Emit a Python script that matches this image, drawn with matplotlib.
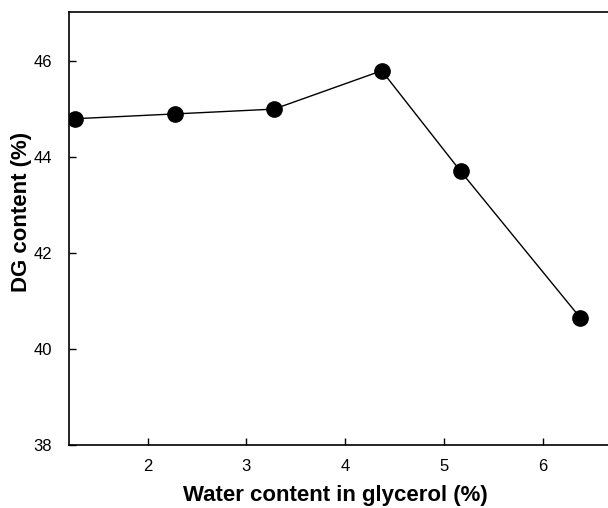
import matplotlib
matplotlib.use("Agg")
import matplotlib.pyplot as plt

water = [1.27, 2.28, 3.28, 4.37, 5.17, 6.38]
dg = [44.8, 44.9, 45.0, 45.8, 43.7, 40.65]
xticks = [2, 3, 4, 5, 6]
yticks = [38, 40, 42, 44, 46]

plt.rcParams['font.family'] = ['Liberation Sans', 'DejaVu Sans']

fig = plt.figure(figsize=(6.08, 5.08), dpi=100)
ax = fig.add_axes([68.5/608, 63/508, 1 - 68.5/608, (445 - 11.7)/508])
ax.plot(water, dg, color='black', lw=1.0, marker='o', markersize=11,
        markerfacecolor='black', markeredgecolor='black')
ax.set_xlim(1.2, 6.66)
ax.set_ylim(38, 47.03)
ax.set_xticks(xticks)
ax.set_yticks(yticks)
ax.tick_params(direction='in', length=5, width=1, labelsize=12)
ax.tick_params(axis='x', pad=10)
ax.tick_params(axis='y', pad=12)
ax.spines['right'].set_visible(False)
for s in ['left', 'top', 'bottom']:
    ax.spines[s].set_linewidth(1.2)
fig.text(335/608, 1 - 496/508, 'Water content in glycerol (%)', fontsize=16,
         fontweight='bold', ha='center', va='center')
fig.text(22/608, 1 - 212/508, 'DG content (%)', fontsize=16,
         fontweight='bold', ha='center', va='center', rotation=90)
fig.savefig('out.png', dpi=100)
